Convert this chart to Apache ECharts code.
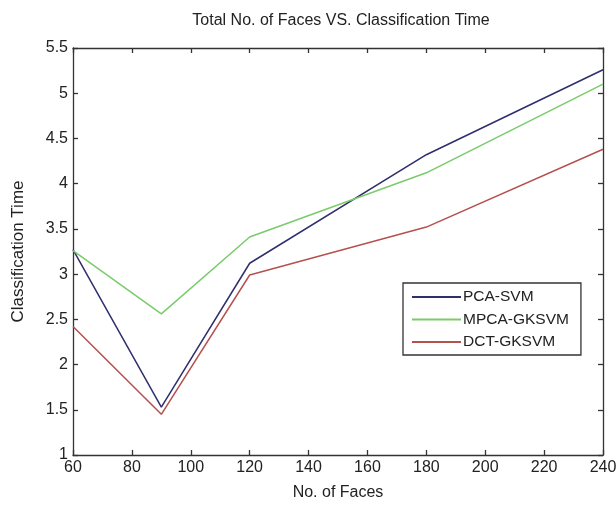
<!DOCTYPE html>
<html>
<head>
<meta charset="utf-8">
<script src="https://cdn.jsdelivr.net/npm/echarts@6/dist/echarts.min.js"></script>
<style>html,body{margin:0;padding:0;background:#fff;}#c{width:616px;height:514px;}</style>
</head>
<body>
<div id="c"></div>
<script>
var faces = [60, 90, 120, 180, 240];
var pcaSvm = [3.27, 1.53, 3.12, 4.32, 5.26];
var mpcaGksvm = [3.26, 2.56, 3.41, 4.12, 5.10];
var dctGksvm = [2.42, 1.45, 2.99, 3.52, 4.38];
var seriesNames = ['PCA-SVM', 'MPCA-GKSVM', 'DCT-GKSVM'];
var seriesColors = ['#2f2e6e', '#7acb6b', '#b5504f'];

function pairs(xs, ys) { return xs.map(function (x, i) { return [x, ys[i]]; }); }

var chart = echarts.init(document.getElementById('c'), null, {renderer: 'canvas'});
var font = 'Arial, "Liberation Sans", sans-serif';
var axisLineStyle = {color: '#333', width: 1.3};
chart.setOption({
  animation: false,
  backgroundColor: '#fff',
  title: {
    text: 'Total No. of Faces VS. Classification Time',
    left: 336, top: 8, textAlign: 'center',
    textStyle: {fontFamily: font, fontSize: 16, fontWeight: 'normal', color: '#222'}
  },
  grid: {left: 73, right: 13, top: 48, bottom: 59, outerBoundsMode: 'none', containLabel: false},
  legend: {
    orient: 'vertical',
    left: 403, top: 283,
    padding: [6, 12, 5, 9],
    itemGap: 6.5,
    itemWidth: 49, itemHeight: 2,
    borderColor: '#333', borderWidth: 1.3, borderRadius: 0,
    icon: 'rect',
    textStyle: {fontFamily: font, fontSize: 15.5, color: '#222', padding: [0, 0, 0, -3]},
    data: seriesNames
  },
  xAxis: [{
    type: 'value', min: 60, max: 240, interval: 20,
    name: 'No. of Faces', nameLocation: 'middle', nameGap: 30,
    nameTextStyle: {fontFamily: font, fontSize: 16, color: '#222'},
    axisLine: {show: true, lineStyle: axisLineStyle},
    axisTick: {show: true, inside: true, length: 5, lineStyle: axisLineStyle},
    axisLabel: {fontFamily: font, fontSize: 16, color: '#222', margin: 5},
    splitLine: {show: false}
  }, {
    type: 'value', min: 60, max: 240, interval: 20, position: 'top',
    axisLine: {show: true, lineStyle: axisLineStyle},
    axisTick: {show: true, inside: true, length: 5, lineStyle: axisLineStyle},
    axisLabel: {show: false}, splitLine: {show: false}
  }],
  yAxis: [{
    type: 'value', min: 1, max: 5.5, interval: 0.5,
    name: 'Classification Time', nameLocation: 'middle', nameGap: 46,
    nameTextStyle: {fontFamily: font, fontSize: 17, color: '#222'},
    axisLine: {show: true, lineStyle: axisLineStyle},
    axisTick: {show: true, inside: true, length: 5, lineStyle: axisLineStyle},
    axisLabel: {fontFamily: font, fontSize: 16, color: '#222', margin: 5},
    splitLine: {show: false}
  }, {
    type: 'value', min: 1, max: 5.5, interval: 0.5, position: 'right',
    axisLine: {show: true, lineStyle: axisLineStyle},
    axisTick: {show: true, inside: true, length: 5, lineStyle: axisLineStyle},
    axisLabel: {show: false}, splitLine: {show: false}
  }],
  series: [pcaSvm, mpcaGksvm, dctGksvm].map(function (vals, i) {
    return {
      name: seriesNames[i], type: 'line',
      data: pairs(faces, vals),
      showSymbol: false, symbol: 'none',
      lineStyle: {color: seriesColors[i], width: 1.5},
      itemStyle: {color: seriesColors[i]}
    };
  })
});
</script>
</body>
</html>
